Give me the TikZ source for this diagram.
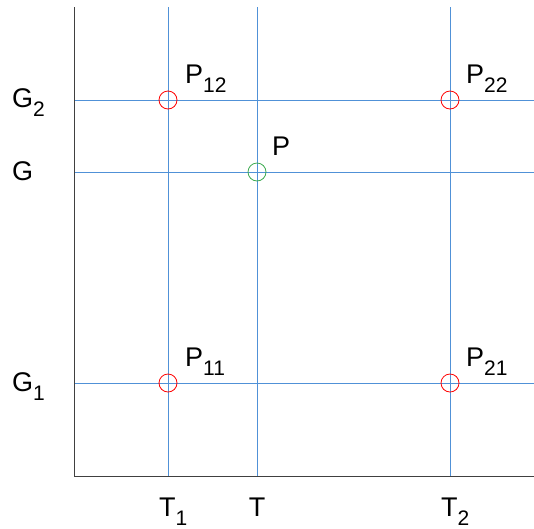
\documentclass[tikz,border=0pt]{standalone}
\usepackage{fontspec}
\setmainfont{Liberation Sans}
\usetikzlibrary{positioning}
\newcommand{\lowsub}[1]{\raisebox{-9pt}{\fontsize{21}{21}\selectfont #1}}
\definecolor{gridblue}{RGB}{80,145,215}

\begin{document}
\begin{tikzpicture}[x=1pt,y=-1pt,
    grid line/.style={draw=gridblue, line width=1pt},
    knot/.style={circle, draw=red, line width=0.8pt, minimum size=18pt, inner sep=0pt},
    lbl/.style={font=\fontsize{27}{32}\selectfont, inner sep=0pt, anchor=base west}]
    \useasboundingbox (0,0) rectangle (534,528);
    % axes
    \coordinate (origin) at (74,476);
    \coordinate (ytop) at (74,7);
    \coordinate (xend) at (534,476);
    % grid lines
    \foreach \x/\n in {168/t1,257/t,450/t2} {
        \coordinate (\n top) at (\x,7);
        \coordinate (\n bot) at (\x,476);
        \draw[grid line] (\n top) -- (\n bot);
    }
    \foreach \y/\n in {100/g2,172/g,383/g1} {
        \coordinate (\n left) at (74,\y);
        \coordinate (\n right) at (534,\y);
        \draw[grid line] (\n left) -- (\n right);
    }
    \draw[line width=1pt, black!75] (ytop) -- (origin) -- (xend);
    % grid points
    \node[knot] (p12) at (168,100) {};
    \node[knot] (p22) at (450,100) {};
    \node[knot] (p11) at (168,383) {};
    \node[knot] (p21) at (450,383) {};
    \node[knot, draw={rgb,255:red,60;green,170;blue,80}] (p) at (257,172) {};
    % point labels
    \node[lbl] (lp12) at (185,83) {P\lowsub{12}};
    \node[lbl] (lp22) at (466,83) {P\lowsub{22}};
    \node[lbl] (lp11) at (185,366) {P\lowsub{11}};
    \node[lbl] (lp21) at (466,366) {P\lowsub{21}};
    \node[lbl] (lp) at (272,155) {P};
    % axis labels
    \node[lbl] (lg2) at (12,107) {G\lowsub{2}};
    \node[lbl] (lg) at (12,180) {G};
    \node[lbl] (lg1) at (12,391) {G\lowsub{1}};
    \node[lbl] (lt1) at (159,516) {T\lowsub{1}};
    \node[lbl, anchor=base] (lt) at (257,516) {T};
    \node[lbl] (lt2) at (441,516) {T\lowsub{2}};
\end{tikzpicture}
\end{document}
